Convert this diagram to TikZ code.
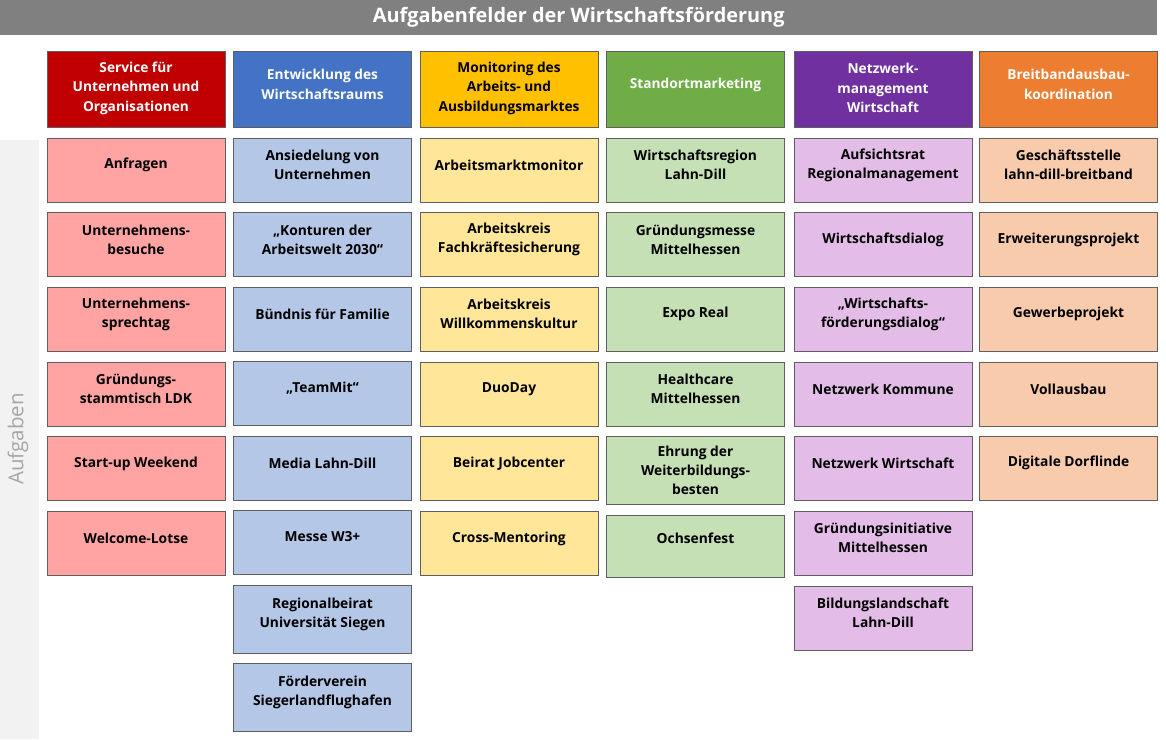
\documentclass[tikz,border=0pt]{standalone}
\usepackage{fontspec}
\setmainfont{Open Sans}
\definecolor{titlegray}{HTML}{808080}
\definecolor{sidegray}{HTML}{F2F2F2}
\definecolor{sidetext}{HTML}{A6A6A6}
\definecolor{boxline}{HTML}{5F5F5F}
\definecolor{servdark}{HTML}{C00000}
\definecolor{servlight}{HTML}{FFA3A3}
\definecolor{entwdark}{HTML}{4472C4}
\definecolor{entwlight}{HTML}{B4C7E7}
\definecolor{mondark}{HTML}{FFC000}
\definecolor{monlight}{HTML}{FFE699}
\definecolor{standdark}{HTML}{70AD47}
\definecolor{standlight}{HTML}{C5E0B4}
\definecolor{netzdark}{HTML}{7030A0}
\definecolor{netzlight}{HTML}{E3BCE8}
\definecolor{breitdark}{HTML}{ED7D31}
\definecolor{breitlight}{HTML}{F8CBAD}
\tikzset{
  box/.style={draw=boxline, line width=0.9pt, minimum width=178, minimum height=64, inner sep=0pt},
  head/.style={box, minimum height=76},
  headtext/.style={align=center, text=white, font=\fontsize{13.7}{19.5}\selectfont\bfseries, yshift=4.5pt},
  tasktext/.style={align=center, font=\fontsize{13.8}{19}\selectfont\bfseries, yshift=5pt}
}
\begin{document}
\begin{tikzpicture}[x=1pt, y=-1pt]
    \useasboundingbox (0,0) rectangle (1166,739);

    % title and side band
    \node[fill=titlegray, minimum width=1157, minimum height=35, anchor=north west, inner sep=0pt,
          text=white, font=\fontsize{19.9}{22}\selectfont\bfseries] (title) at (0,0)
          {Aufgabenfelder der Wirtschaftsförderung};
    \fill[sidegray] (0,140) rectangle (39,739);
    \node[rotate=90, text=sidetext, font=\fontsize{20.5}{24}\selectfont] (aufg) at (18,439) {Aufgaben};

    % headers
    \node[head, fill=servdark,  label={[headtext, yshift=-3.5pt]center:{Service für\\Unternehmen und\\Organisationen}}] (h1) at (136,89) {};
    \node[head, fill=entwdark,  label={[headtext]center:{Entwicklung des\\Wirtschaftsraums}}] (h2) at (322.5,89) {};
    \node[head, fill=mondark,   label={[headtext, yshift=-3.5pt, text=black]center:{Monitoring des\\Arbeits- und\\Ausbildungsmarktes}}] (h3) at (509,89) {};
    \node[head, fill=standdark, label={[headtext]center:{Standortmarketing}}] (h4) at (695.5,89) {};
    \node[head, fill=netzdark,  label={[headtext, yshift=-3.5pt]center:{Netzwerk-\\management\\Wirtschaft}}] (h5) at (883,89) {};
    \node[head, fill=breitdark, label={[headtext]center:{Breitbandausbau-\\koordination}}] (h6) at (1068.5,89) {};

    % Service fuer Unternehmen
    \node[box, fill=servlight, label={[tasktext]center:{Anfragen}}] (s1) at (136,170) {};
    \node[box, fill=servlight, label={[tasktext]center:{Unternehmens-\\besuche}}] (s2) at (136,244.5) {};
    \node[box, fill=servlight, label={[tasktext]center:{Unternehmens-\\sprechtag}}] (s3) at (136,319) {};
    \node[box, fill=servlight, label={[tasktext]center:{Gründungs-\\stammtisch LDK}}] (s4) at (136,394) {};
    \node[box, fill=servlight, label={[tasktext]center:{Start-up Weekend}}] (s5) at (136,468.5) {};
    \node[box, fill=servlight, label={[tasktext]center:{Welcome-Lotse}}] (s6) at (136,543) {};

    % Entwicklung des Wirtschaftsraums
    \node[box, fill=entwlight, label={[tasktext]center:{Ansiedelung von\\Unternehmen}}] (e1) at (322.5,170) {};
    \node[box, fill=entwlight, label={[tasktext]center:{„Konturen der\\Arbeitswelt 2030“}}] (e2) at (322.5,244.5) {};
    \node[box, fill=entwlight, label={[tasktext]center:{Bündnis für Familie}}] (e3) at (322.5,319) {};
    \node[box, fill=entwlight, label={[tasktext]center:{„TeamMit“}}] (e4) at (322.5,393.5) {};
    \node[box, fill=entwlight, label={[tasktext]center:{Media Lahn-Dill}}] (e5) at (322.5,468) {};
    \node[box, fill=entwlight, label={[tasktext]center:{Messe W3+}}] (e6) at (322.5,542) {};
    \node[box, fill=entwlight, minimum height=68, label={[tasktext]center:{Regionalbeirat\\Universität Siegen}}] (e7) at (322.5,619) {};
    \node[box, fill=entwlight, minimum height=68, label={[tasktext]center:{Förderverein\\Siegerlandflughafen}}] (e8) at (322.5,697) {};

    % Monitoring des Arbeitsmarktes
    \node[box, fill=monlight, label={[tasktext]center:{Arbeitsmarktmonitor}}] (m1) at (509,170) {};
    \node[box, fill=monlight, label={[tasktext]center:{Arbeitskreis\\Fachkräftesicherung}}] (m2) at (509,244.5) {};
    \node[box, fill=monlight, label={[tasktext]center:{Arbeitskreis\\Willkommenskultur}}] (m3) at (509,319) {};
    \node[box, fill=monlight, label={[tasktext]center:{DuoDay}}] (m4) at (509,394) {};
    \node[box, fill=monlight, label={[tasktext]center:{Beirat Jobcenter}}] (m5) at (509,468.5) {};
    \node[box, fill=monlight, label={[tasktext]center:{Cross-Mentoring}}] (m6) at (509,543.5) {};

    % Standortmarketing
    \node[box, fill=standlight, label={[tasktext]center:{Wirtschaftsregion\\Lahn-Dill}}] (st1) at (695.5,170) {};
    \node[box, fill=standlight, label={[tasktext]center:{Gründungsmesse\\Mittelhessen}}] (st2) at (695.5,244.5) {};
    \node[box, fill=standlight, label={[tasktext]center:{Expo Real}}] (st3) at (695.5,319) {};
    \node[box, fill=standlight, label={[tasktext]center:{Healthcare\\Mittelhessen}}] (st4) at (695.5,394) {};
    \node[box, fill=standlight, minimum height=68, label={[tasktext, yshift=-5pt]center:{Ehrung der\\Weiterbildungs-\\besten}}] (st5) at (695.5,470.5) {};
    \node[box, fill=standlight, minimum height=62, label={[tasktext, yshift=3pt]center:{Ochsenfest}}] (st6) at (695.5,546.5) {};

    % Netzwerkmanagement Wirtschaft
    \node[box, fill=netzlight, label={[tasktext]center:{Aufsichtsrat\\Regionalmanagement}}] (n1) at (883,170) {};
    \node[box, fill=netzlight, label={[tasktext]center:{Wirtschaftsdialog}}] (n2) at (883,244.5) {};
    \node[box, fill=netzlight, label={[tasktext]center:{„Wirtschafts-\\förderungsdialog“}}] (n3) at (883,319) {};
    \node[box, fill=netzlight, label={[tasktext]center:{Netzwerk Kommune}}] (n4) at (883,394) {};
    \node[box, fill=netzlight, label={[tasktext]center:{Netzwerk Wirtschaft}}] (n5) at (883,468) {};
    \node[box, fill=netzlight, label={[tasktext]center:{Gründungsinitiative\\Mittelhessen}}] (n6) at (883,543) {};
    \node[box, fill=netzlight, label={[tasktext]center:{Bildungslandschaft\\Lahn-Dill}}] (n7) at (883,618) {};

    % Breitbandausbaukoordination
    \node[box, fill=breitlight, label={[tasktext]center:{Geschäftsstelle\\lahn-dill-breitband}}] (b1) at (1068.5,170) {};
    \node[box, fill=breitlight, label={[tasktext]center:{Erweiterungsprojekt}}] (b2) at (1068.5,244.5) {};
    \node[box, fill=breitlight, label={[tasktext]center:{Gewerbeprojekt}}] (b3) at (1068.5,319) {};
    \node[box, fill=breitlight, label={[tasktext]center:{Vollausbau}}] (b4) at (1068.5,394) {};
    \node[box, fill=breitlight, label={[tasktext]center:{Digitale Dorflinde}}] (b5) at (1068.5,468) {};

\end{tikzpicture}
\end{document}
